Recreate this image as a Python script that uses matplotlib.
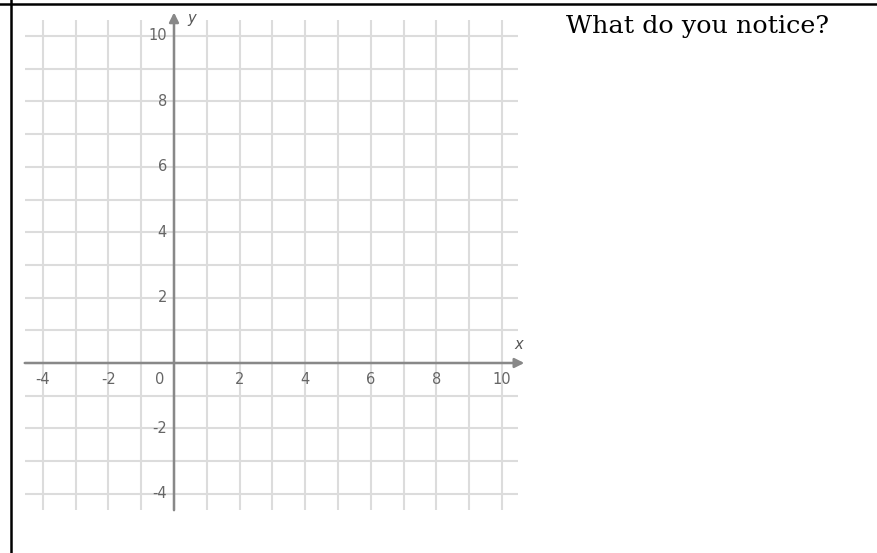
import numpy as np
import matplotlib
matplotlib.use("Agg")
import matplotlib.pyplot as plt
from matplotlib.lines import Line2D

# grid and labels
grid_x = list(range(-4, 11))
grid_y = list(range(-4, 11))
x_labels = [-4, -2, 0, 2, 4, 6, 8, 10]
y_labels = [-4, -2, 2, 4, 6, 8, 10]
prompt = "What do you notice?"

W, H = 877, 553
fig = plt.figure(figsize=(W / 100, H / 100), dpi=100)

# pixel scale of the plane
ux, uy = 32.8, 32.7
ox, oy = 174, 363
xlim = (-4.9, 10.9)
ylim = (-4.9, 10.9)
left = ox + xlim[0] * ux
right = ox + xlim[1] * ux
bottom = oy - ylim[0] * uy
top = oy - ylim[1] * uy
ax = fig.add_axes([left / W, 1 - bottom / H, (right - left) / W, (bottom - top) / H])
ax.set_xlim(*xlim)
ax.set_ylim(*ylim)
ax.axis('off')

gc = '#dcdcdc'
ax.vlines(grid_x, -4.5, 10.5, color=gc, lw=1.5, zorder=1)
ax.hlines(grid_y, -4.55, 10.5, color=gc, lw=1.5, zorder=1)

ac = '#888888'
ax.annotate('', xy=(10.68, 0), xytext=(-4.55, 0),
            arrowprops=dict(arrowstyle='-|>', color=ac, lw=1.8, mutation_scale=14, shrinkA=0, shrinkB=0), zorder=3)
ax.annotate('', xy=(0, 10.72), xytext=(0, -4.5),
            arrowprops=dict(arrowstyle='-|>', color=ac, lw=1.8, mutation_scale=14, shrinkA=0, shrinkB=0), zorder=3)

tc = '#666666'
for v in x_labels:
    xp = -0.43 if v == 0 else v
    ax.text(xp, -0.5, str(v), ha='center', va='center', fontsize=10.5, color=tc)
for v in y_labels:
    ax.text(-0.22, v, str(v), ha='right', va='center', fontsize=10.5, color=tc)

ax.text(0.55, 10.55, 'y', ha='center', va='center', fontsize=10.5, style='italic', color='#555555')
ax.text(10.5, 0.58, 'x', ha='center', va='center', fontsize=10.5, style='italic', color='#555555')

fig.text(566 / W, 1 - 33 / H, prompt, ha='left', va='baseline',
         fontsize=18.3, family='DejaVu Serif', color='black')

# table borders
fig.add_artist(Line2D([0, 1], [1 - 4 / H, 1 - 4 / H], color='black', lw=1.8, transform=fig.transFigure))
fig.add_artist(Line2D([11 / W, 11 / W], [0, 1], color='black', lw=1.8, transform=fig.transFigure))

fig.savefig('out.png', dpi=100)
